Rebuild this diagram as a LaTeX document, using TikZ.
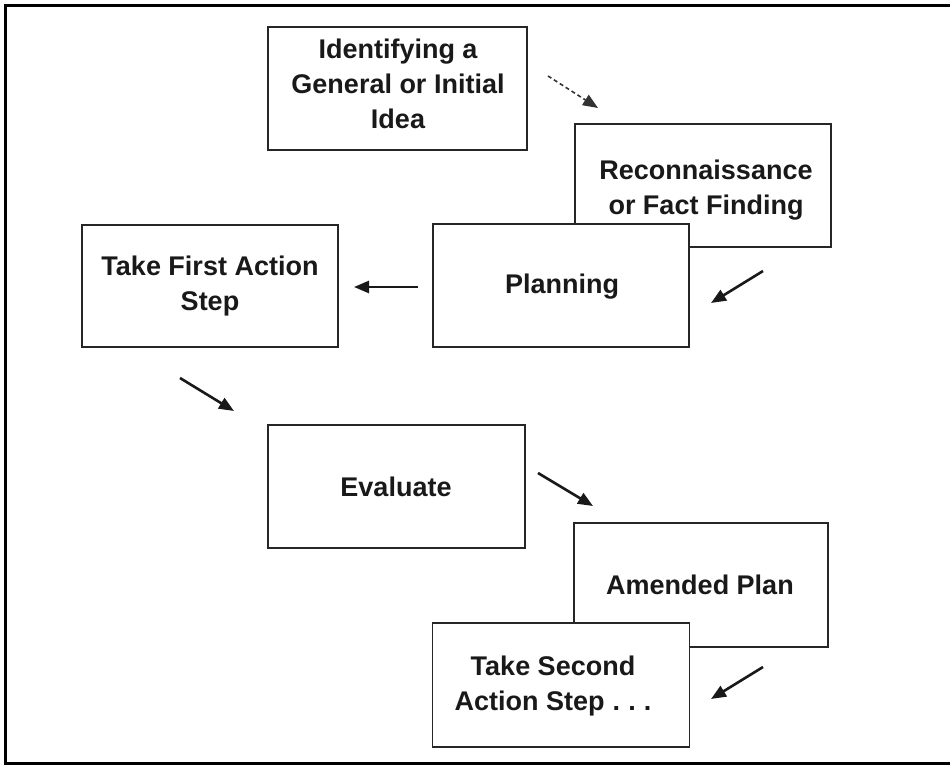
\documentclass[tikz,border=0pt]{standalone}
\usepackage{fontspec}
\setmainfont{Liberation Sans}
\usetikzlibrary{arrows.meta}
\tikzset{
  stagebox/.style={draw=black!85, line width=1.4pt, fill=white, rectangle, inner sep=0pt},
  stagetext/.style={font=\bfseries\fontsize{27}{35}\selectfont, align=center, inner sep=0pt, text=black!90},
  flow/.style={line width=2.6pt, draw=black!90, -{Triangle[length=15pt,width=12pt]}},
  flowfaint/.style={line width=1.6pt, draw=black!80, dash pattern=on 4pt off 3pt, -{Triangle[length=15pt,width=12pt]}},
  frameline/.style={line width=3pt, draw=black, line cap=rect}
}
\begin{document}
\begin{tikzpicture}[x=1pt, y=-1pt]
\useasboundingbox (0,0) rectangle (950,769);
% outer frame (open on the right)
\coordinate (ftr) at (950,5);
\coordinate (ftl) at (5,5);
\coordinate (fbl) at (5,763);
\coordinate (fbr) at (950,763);
\draw[frameline] (ftr) -- (ftl) -- (fbl) -- (fbr);

% boxes (drawn in an order so that overlapping ones cover the earlier)
\node[stagebox, minimum width=259pt, minimum height=123pt] (b1) at (397.5,88.5) {};
\node[stagebox, minimum width=256pt, minimum height=123pt] (b2) at (703,185.5) {};
\node[stagebox, minimum width=256pt, minimum height=123pt] (b3) at (561,285.5) {};
\node[stagebox, minimum width=256pt, minimum height=122pt] (b4) at (210,286) {};
\node[stagebox, minimum width=257pt, minimum height=123pt] (b5) at (396.5,486.5) {};
\node[stagebox, minimum width=254pt, minimum height=124pt] (b6) at (701,585) {};
\node[stagebox, minimum width=257pt, minimum height=124pt] (b7) at (561,685) {};

% texts
\node[stagetext] (t1) at (398,84) {Identifying a\\General or Initial\\Idea};
\node[stagetext] (t2) at (706,190) {Reconnaissance\\or Fact Finding};
\node[stagetext] (t3) at (562,287) {Planning};
\node[stagetext] (t4) at (210,286) {Take First Action\\Step};
\node[stagetext] (t5) at (396,487) {Evaluate};
\node[stagetext] (t6) at (700,585) {Amended Plan};
\node[stagetext] (t7) at (553,686) {Take Second\\Action Step\hspace{0.3em}.\hspace{0.3em}.\hspace{0.3em}.};

% arrow end points
\coordinate (a12s) at (548,76);
\coordinate (a12e) at (598,108);
\coordinate (a23s) at (763,271);
\coordinate (a23e) at (711,303);
\coordinate (a34s) at (418,287);
\coordinate (a34e) at (354,287);
\coordinate (a45s) at (180,378);
\coordinate (a45e) at (234,411);
\coordinate (a56s) at (538,473);
\coordinate (a56e) at (593,506);
\coordinate (a67s) at (763,667);
\coordinate (a67e) at (711,699);

\draw[flowfaint] (a12s) -- (a12e);
\draw[flow] (a23s) -- (a23e);
\draw[flow] (a34s) -- (a34e);
\draw[flow] (a45s) -- (a45e);
\draw[flow] (a56s) -- (a56e);
\draw[flow] (a67s) -- (a67e);
\end{tikzpicture}
\end{document}
